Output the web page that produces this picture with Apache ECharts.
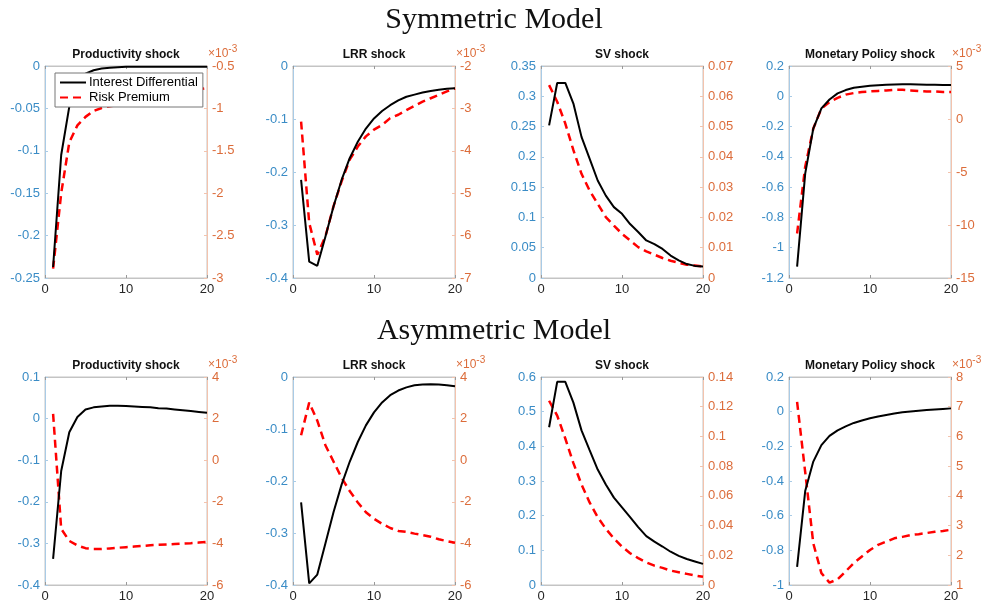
<!DOCTYPE html>
<html>
<head>
<meta charset="utf-8">
<script src="https://cdn.jsdelivr.net/npm/echarts@6/dist/echarts.min.js"></script>
<style>
  html, body { margin: 0; padding: 0; background: #fff; }
  #chart { width: 988px; height: 603px; }
</style>
</head>
<body>
<div id="chart"></div>
<script>
// horizon (quarters)
const steps = [1, 2, 3, 4, 5, 6, 7, 8, 9, 10, 11, 12, 13, 14, 15, 16, 17, 18, 19, 20];

const panelTitles = ['Productivity shock', 'LRR shock', 'SV shock', 'Monetary Policy shock'];
const rowTitles = ['Symmetric Model', 'Asymmetric Model'];
const seriesNames = ['Interest Differential', 'Risk Premium'];

// Symmetric model -- interest differential (left axis)
const idSymProd = [-0.237, -0.105, -0.048, -0.02, -0.009, -0.005, -0.003, -0.002, -0.0015, -0.001, -0.001, -0.001, -0.001, -0.001, -0.001, -0.001, -0.001, -0.001, -0.001, -0.001];
const idSymLrr = [-0.215, -0.369, -0.377, -0.322, -0.265, -0.215, -0.174, -0.143, -0.118, -0.099, -0.085, -0.074, -0.065, -0.058, -0.054, -0.05, -0.047, -0.045, -0.043, -0.042];
const idSymSv = [0.252, 0.322, 0.322, 0.288, 0.233, 0.197, 0.161, 0.136, 0.117, 0.106, 0.089, 0.076, 0.062, 0.056, 0.048, 0.037, 0.029, 0.023, 0.02, 0.019];
const idSymMp = [-1.125, -0.511, -0.213, -0.08, -0.021, 0.019, 0.041, 0.056, 0.063, 0.07, 0.073, 0.076, 0.078, 0.079, 0.079, 0.078, 0.077, 0.076, 0.075, 0.074];

// Symmetric model -- risk premium (right axis; x10^-3 except SV)
const rpSymProd = [-2.89, -2.0, -1.4, -1.2, -1.1, -1.03, -0.995, -0.975, -0.96, -0.945, -0.93, -0.91, -0.89, -0.87, -0.85, -0.83, -0.81, -0.79, -0.775, -0.76];
const rpSymLrr = [-3.31, -5.7, -6.45, -6.02, -5.31, -4.72, -4.21, -3.9, -3.66, -3.5, -3.39, -3.23, -3.15, -3.04, -2.94, -2.84, -2.76, -2.68, -2.6, -2.53];
const rpSymSv = [0.0637, 0.0582, 0.051, 0.0422, 0.0344, 0.0289, 0.0245, 0.0201, 0.0173, 0.0146, 0.0124, 0.0102, 0.0088, 0.0077, 0.0066, 0.0057, 0.005, 0.0044, 0.0041, 0.0038];
const rpSymMp = [-10.8, -4.5, -0.9, 1.0, 1.6, 2.0, 2.3, 2.45, 2.55, 2.6, 2.65, 2.7, 2.75, 2.75, 2.7, 2.65, 2.6, 2.6, 2.55, 2.55];

// Asymmetric model -- interest differential (left axis)
const idAsymProd = [-0.337, -0.126, -0.033, 0.004, 0.022, 0.027, 0.029, 0.031, 0.031, 0.03, 0.029, 0.028, 0.027, 0.025, 0.024, 0.022, 0.02, 0.018, 0.016, 0.014];
const idAsymLrr = [-0.241, -0.397, -0.38, -0.32, -0.26, -0.207, -0.163, -0.125, -0.093, -0.068, -0.049, -0.035, -0.026, -0.02, -0.016, -0.0145, -0.0139, -0.0145, -0.016, -0.018];
const idAsymSv = [0.455, 0.586, 0.586, 0.526, 0.446, 0.389, 0.333, 0.29, 0.252, 0.224, 0.196, 0.167, 0.141, 0.125, 0.111, 0.096, 0.084, 0.075, 0.068, 0.061];
const idAsymMp = [-0.896, -0.458, -0.288, -0.193, -0.14, -0.108, -0.085, -0.065, -0.051, -0.038, -0.028, -0.019, -0.011, -0.004, 0.001, 0.005, 0.009, 0.013, 0.016, 0.019];

// Asymmetric model -- risk premium (right axis; x10^-3 except SV)
const rpAsymProd = [2.23, -3.3, -3.88, -4.1, -4.23, -4.27, -4.27, -4.24, -4.21, -4.18, -4.15, -4.12, -4.09, -4.07, -4.05, -4.03, -4.01, -3.99, -3.96, -3.93];
const rpAsymLrr = [1.2, 2.77, 1.9, 0.72, -0.06, -0.85, -1.48, -2.03, -2.5, -2.82, -3.06, -3.26, -3.4, -3.45, -3.53, -3.6, -3.68, -3.8, -3.89, -3.97];
const rpAsymSv = [0.124, 0.114, 0.0986, 0.082, 0.0677, 0.0556, 0.0456, 0.0379, 0.0313, 0.0258, 0.0214, 0.0181, 0.0152, 0.013, 0.0115, 0.0097, 0.0086, 0.0075, 0.0064, 0.0055];
const rpAsymMp = [7.16, 4.8, 2.4, 1.4, 1.08, 1.19, 1.46, 1.74, 1.96, 2.18, 2.35, 2.46, 2.57, 2.62, 2.68, 2.71, 2.75, 2.79, 2.82, 2.86];

// axis ranges [min, max, interval]
const leftRanges = [
  [-0.25, 0, 0.05], [-0.4, 0, 0.1], [0, 0.35, 0.05], [-1.2, 0.2, 0.2],
  [-0.4, 0.1, 0.1], [-0.4, 0, 0.1], [0, 0.6, 0.1], [-1, 0.2, 0.2]
];
const rightRanges = [
  [-3, -0.5, 0.5], [-7, -2, 1], [0, 0.07, 0.01], [-15, 5, 5],
  [-6, 4, 2], [-6, 4, 2], [0, 0.14, 0.02], [1, 8, 1]
];
const scaled = [true, true, false, true, true, true, false, true];

const idData = [idSymProd, idSymLrr, idSymSv, idSymMp, idAsymProd, idAsymLrr, idAsymSv, idAsymMp];
const rpData = [rpSymProd, rpSymLrr, rpSymSv, rpSymMp, rpAsymProd, rpAsymLrr, rpAsymSv, rpAsymMp];

const chart = echarts.init(document.getElementById('chart'));

const FONT = 'Liberation Sans, Arial, sans-serif';
const BLUE = '#3a8cc6';
const BLUE_LINE = '#a9cbe6';
const ORANGE = '#dc6c3a';
const ORANGE_LINE = '#f3c3ad';
const BOX = '#c4c4c4';

const lefts = [45, 293, 541, 789];
const plotW = 162;
const tops = [66, 377];
const heights = [212, 210];

const grids = [], xAxes = [], yAxes = [], series = [];
const titles = [];

rowTitles.forEach((t, r) => {
  titles.push({
    text: t, left: 494, top: r === 0 ? 5 : 316, textAlign: 'center', padding: 0,
    textStyle: { fontFamily: 'Liberation Serif, serif', fontSize: 30, fontWeight: 'normal', color: '#111' }
  });
});

for (let i = 0; i < 8; i++) {
  const r = Math.floor(i / 4), c = i % 4;
  grids.push({
    left: lefts[c], top: tops[r], width: plotW, height: heights[r],
    show: true, borderColor: BOX, borderWidth: 1, backgroundColor: '#fff'
  });
  titles.push({
    text: panelTitles[c], left: lefts[c] + plotW / 2, top: r === 0 ? 49 : 360,
    textAlign: 'center', padding: 0,
    textStyle: { fontFamily: FONT, fontSize: 12, fontWeight: 'bold', color: '#111' }
  });
  // bottom x axis
  xAxes.push({
    type: 'value', gridIndex: i, min: 0, max: 20, interval: 10, position: 'bottom',
    axisLine: { show: true, onZero: false, lineStyle: { color: BOX, width: 1 } },
    axisTick: { show: true, inside: true, length: 3, lineStyle: { color: '#999' } },
    axisLabel: { color: '#262626', fontFamily: FONT, fontSize: 13, margin: 5 },
    splitLine: { show: false }
  });
  // top x axis (ticks only)
  xAxes.push({
    type: 'value', gridIndex: i, min: 0, max: 20, interval: 10, position: 'top',
    axisLine: { show: true, onZero: false, lineStyle: { color: BOX, width: 1 } },
    axisTick: { show: true, inside: true, length: 3, lineStyle: { color: '#999' } },
    axisLabel: { show: false },
    splitLine: { show: false }
  });
  const L = leftRanges[i], R = rightRanges[i];
  yAxes.push({
    type: 'value', gridIndex: i, position: 'left', min: L[0], max: L[1], interval: L[2],
    axisLine: { show: true, onZero: false, lineStyle: { color: BLUE_LINE, width: 1 } },
    axisTick: { show: true, inside: true, length: 3, lineStyle: { color: BLUE_LINE } },
    axisLabel: { color: BLUE, fontFamily: FONT, fontSize: 13, margin: 5 },
    splitLine: { show: false }
  });
  yAxes.push({
    type: 'value', gridIndex: i, position: 'right', min: R[0], max: R[1], interval: R[2],
    name: scaled[i] ? '{a|×10}{b|-3}' : '',
    nameLocation: 'end', nameGap: -2,
    nameTextStyle: {
      align: 'left', verticalAlign: 'bottom', padding: [0, 0, 0, 1],
      rich: {
        a: { color: ORANGE, fontFamily: FONT, fontSize: 12, verticalAlign: 'bottom', lineHeight: 15 },
        b: { color: ORANGE, fontFamily: FONT, fontSize: 10, verticalAlign: 'top', lineHeight: 15 }
      }
    },
    axisLine: { show: true, onZero: false, lineStyle: { color: ORANGE_LINE, width: 1 } },
    axisTick: { show: true, inside: true, length: 3, lineStyle: { color: ORANGE_LINE } },
    axisLabel: { color: ORANGE, fontFamily: FONT, fontSize: 13, margin: 5 },
    splitLine: { show: false }
  });
  series.push({
    name: seriesNames[0], type: 'line', xAxisIndex: 2 * i, yAxisIndex: 2 * i,
    data: steps.map((s, k) => [s, idData[i][k]]),
    symbol: 'none', silent: true, z: 3,
    lineStyle: { color: '#000', width: 2 }, itemStyle: { color: '#000' }
  });
  series.push({
    name: seriesNames[1], type: 'line', xAxisIndex: 2 * i, yAxisIndex: 2 * i + 1,
    data: steps.map((s, k) => [s, rpData[i][k]]),
    symbol: 'none', silent: true, z: 2,
    lineStyle: { color: '#ff0000', width: 2.5, type: [8, 5] }, itemStyle: { color: '#ff0000' }
  });
}

const option = {
  animation: false,
  backgroundColor: '#fff',
  title: titles,
  legend: {
    data: seriesNames,
    orient: 'vertical', left: 55, top: 73,
    itemWidth: 26, itemHeight: 12, itemGap: 2,
    padding: [3, 5, 3, 4],
    backgroundColor: '#fff', borderColor: '#777', borderWidth: 1,
    itemStyle: { color: 'rgba(0,0,0,0)', borderWidth: 0, opacity: 0 },
    textStyle: { fontFamily: FONT, fontSize: 13, color: '#000', padding: [0, 0, 0, -2] },
    selectedMode: false, z: 10
  },
  grid: grids,
  xAxis: xAxes,
  yAxis: yAxes,
  series: series
};

chart.setOption(option);
</script>
</body>
</html>
